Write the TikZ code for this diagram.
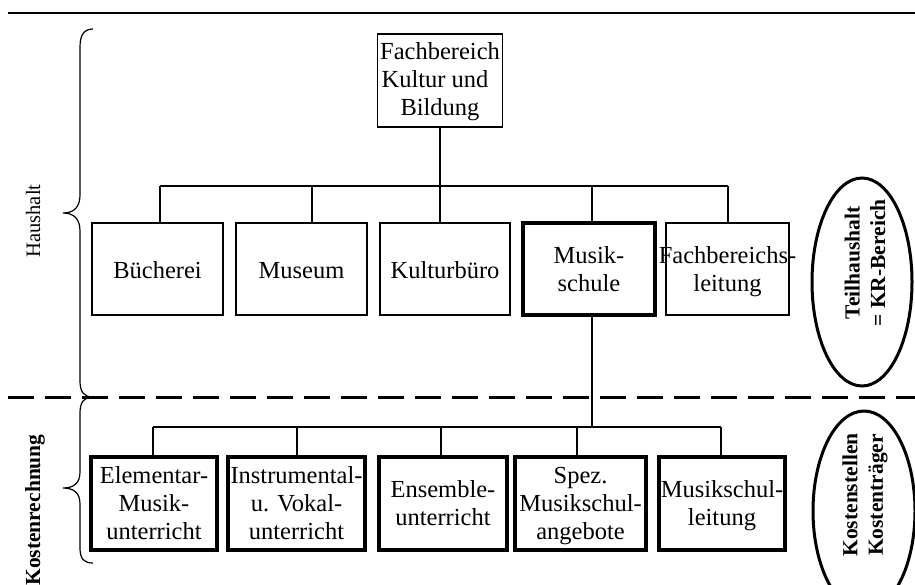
\documentclass[tikz,border=0pt]{standalone}
\usepackage{fontspec}
\setmainfont{Liberation Serif}
\begin{document}
\begin{tikzpicture}[x=1pt,y=-1pt,
  box/.style={draw, line width=1.2pt, inner sep=0pt},
  thickbox/.style={draw, line width=3.4pt, inner sep=0pt},
  lbl/.style={align=center, inner sep=0pt, yshift=-4pt,
    font=\fontsize{24.5}{28}\selectfont,
    execute at begin node=\strut, execute at end node=\strut},
  conn/.style={line width=1.2pt},
  side/.style={rotate=90, align=center, inner sep=0pt, font=\fontsize{20.5}{24}\selectfont},
  sidebold/.style={rotate=90, align=center, inner sep=0pt, font=\fontsize{21.5}{25.5}\selectfont\bfseries},
  oval/.style={line width=3pt}
]
\useasboundingbox (0,0) rectangle (915,584);
\clip (0,0) rectangle (915,584);

% rule across the top and the dashed divider
\coordinate (rule-l) at (8,13);
\coordinate (rule-r) at (915,13);
\draw[line width=1.5pt] (rule-l) -- (rule-r);
\coordinate (div-l) at (8,397);
\coordinate (div-r) at (915,397);
\draw[line width=3pt, dash pattern=on 26pt off 11pt] (div-l) -- (div-r);

% department
\node[box, minimum width=125pt, minimum height=93pt] (fb) at (440,80.5) {};
\node[lbl, yshift=1pt] (fb-t) at (fb) {Fachbereich\\Kultur und\kern10pt\\Bildung};

% units of the department
\node[box, minimum width=131pt, minimum height=92pt] (buch) at (157.5,269) {};
\node[box, minimum width=131pt, minimum height=92pt] (mus)  at (301.5,269) {};
\node[box, minimum width=130pt, minimum height=92pt] (kult) at (445,269) {};
\node[thickbox, minimum width=132pt, minimum height=92pt] (ms) at (589,269) {};
\node[box, minimum width=123pt, minimum height=92pt] (fbl)  at (727.5,269) {};
\node[lbl] (buch-t) at (buch) {Bücherei};
\node[lbl] (mus-t)  at (mus)  {Museum};
\node[lbl] (kult-t) at (kult) {Kulturbüro};
\node[lbl] (ms-t)   at (ms)   {Musik-\\schule};
\node[lbl] (fbl-t)  at (fbl)  {Fachbereichs-\\leitung};

% cost centres of the music school
\node[thickbox, minimum width=126pt, minimum height=93pt] (em)  at (154,503.5) {};
\node[thickbox, minimum width=137pt, minimum height=93pt] (ivu) at (296.5,503.5) {};
\node[thickbox, minimum width=128pt, minimum height=93pt] (ens) at (443,503.5) {};
\node[thickbox, minimum width=131pt, minimum height=93pt] (spz) at (580.5,503.5) {};
\node[thickbox, minimum width=126pt, minimum height=93pt] (msl) at (722,503.5) {};
\node[lbl] (em-t)  at (em)  {Elementar-\\Musik-\\unterricht};
\node[lbl] (ivu-t) at (ivu) {Instrumental-\\u. Vokal-\\unterricht};
\node[lbl] (ens-t) at (ens) {Ensemble-\\unterricht};
\node[lbl] (spz-t) at (spz) {Spez.\\Musikschul-\\angebote};
\node[lbl] (msl-t) at (msl) {Musikschul-\\leitung};

% upper tree
\coordinate (u1) at (160,186);
\coordinate (u2) at (312,186);
\coordinate (u3) at (440,186);
\coordinate (u4) at (592,186);
\coordinate (u5) at (728,186);
\draw[conn] (fb.south) -- (u3);
\draw[conn] (u1) -- (u5);
\draw[conn] (u1) -- (u1 |- buch.north);
\draw[conn] (u2) -- (u2 |- mus.north);
\draw[conn] (u3) -- (u3 |- kult.north);
\draw[conn] (u4) -- (u4 |- ms.north);
\draw[conn] (u5) -- (u5 |- fbl.north);

% lower tree
\coordinate (l1) at (153,427);
\coordinate (l2) at (297,427);
\coordinate (l3) at (441,427);
\coordinate (l4) at (577,427);
\coordinate (l5) at (721,427);
\coordinate (lm) at (592,427);
\draw[conn] (lm |- ms.south) -- (lm);
\draw[conn] (l1) -- (l5);
\draw[conn] (l1) -- (l1 |- em.north);
\draw[conn] (l2) -- (l2 |- ivu.north);
\draw[conn] (l3) -- (l3 |- ens.north);
\draw[conn] (l4) -- (l4 |- spz.north);
\draw[conn] (l5) -- (l5 |- msl.north);

% braces on the left
\draw[conn] (93,29) .. controls (84,29) and (80,35) .. (80,47) -- (80,195)
  .. controls (80,207) and (74,213) .. (63,213)
  .. controls (74,213) and (80,219) .. (80,231) -- (80,381)
  .. controls (80,392) and (84,397) .. (93,397);
\draw[conn] (93,397) .. controls (84,397) and (80,402) .. (80,413) -- (80,472)
  .. controls (80,483) and (74,488) .. (63,488)
  .. controls (74,488) and (80,493) .. (80,504) -- (80,548)
  .. controls (80,559) and (84,563) .. (93,563);
\node[side] (hh) at (33,221) {Haushalt};
\node[sidebold] (kr) at (35,510) {Kostenrechnung};

% ovals on the right
\draw[oval] (862,282) ellipse [x radius=50, y radius=104];
\node[sidebold] (th) at (865,263) {Teilhaushalt\\= KR-Bereich};
\draw[oval] (864,511) ellipse [x radius=51, y radius=100];
\node[sidebold] (kst) at (865,495) {Kostenstellen\\Kostenträger};
\end{tikzpicture}
\end{document}
